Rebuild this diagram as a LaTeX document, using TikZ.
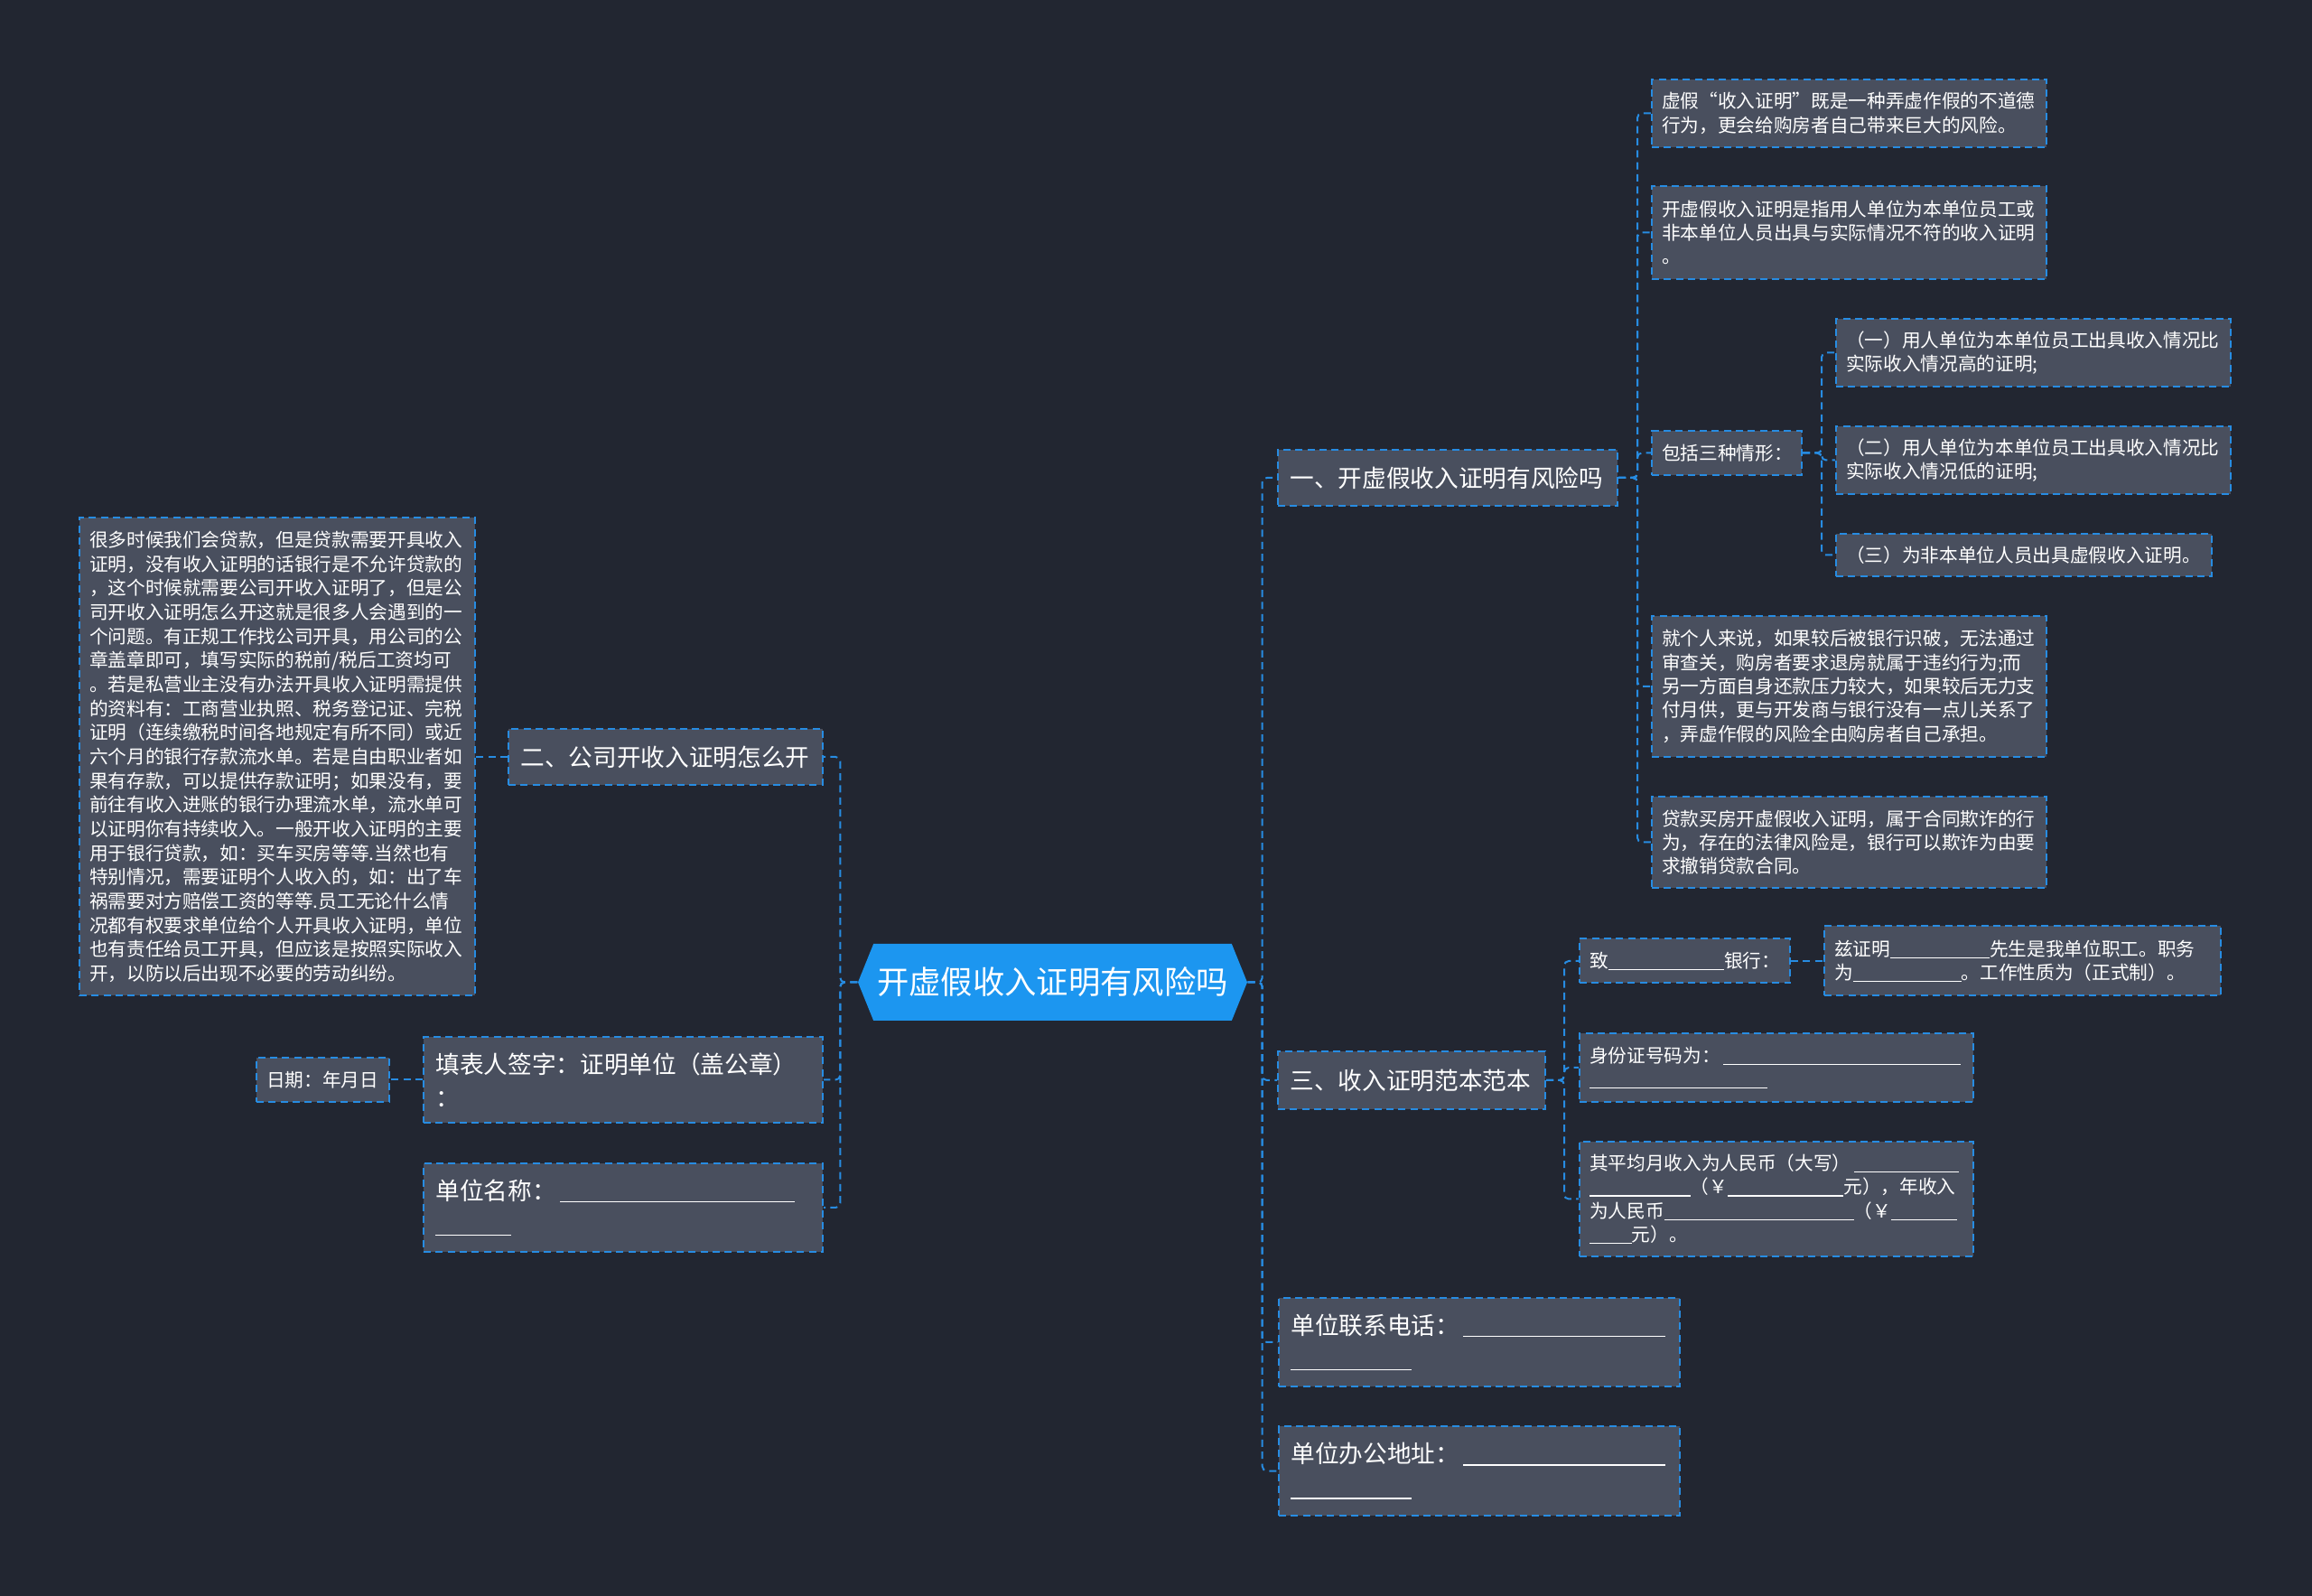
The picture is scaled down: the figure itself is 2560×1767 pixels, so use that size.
\documentclass[tikz,border=0pt]{standalone}
\usepackage{fontspec}
\newfontfamily\cjk{Noto Sans CJK SC}
\usetikzlibrary{shapes.symbols}
\definecolor{bg}{RGB}{34,38,49}
\definecolor{boxfill}{RGB}{73,79,94}
\definecolor{dashc}{RGB}{39,140,226}
\definecolor{rootfill}{RGB}{28,150,240}
\newcommand\bl[1]{\rule[-0.9pt]{#1}{0.45pt}}
\begin{document}
\begin{tikzpicture}[x=0.3pt,y=-0.3pt,
 conn/.style={draw=dashc, line width=0.6pt, dash pattern=on 2.4pt off 1.6pt, rounded corners=1.5pt},
 base/.style={draw=dashc, fill=boxfill, line width=0.6pt, dash pattern=on 2.4pt off 1.6pt, text=white, align=left, inner ysep=0pt},
 small/.style={base, font=\cjk\fontsize{6.2}{7.9}\selectfont, inner xsep=3.3pt},
 mid/.style={base, font=\cjk\fontsize{8}{11}\selectfont, inner xsep=4pt},
]
\fill[bg] (0,0) rectangle (2560,1767);
\useasboundingbox (0,0) rectangle (2560,1767);

% root
\node[shape=signal, signal to=east and west, signal pointer angle=136, fill=rootfill, text=white,
  font=\cjk\fontsize{10.6}{12}\selectfont, minimum width=129.3pt, minimum height=25.5pt, inner sep=0pt]
  (root) at (1165.5,1087.5) {开虚假收入证明有风险吗};

% level 2 right
\node[mid, text width=104.8pt, minimum height=18.6pt] (L1) at (1603,529) {一、开虚假收入证明有风险吗};
\node[mid, text width=80.8pt, minimum height=19.2pt] (L3) at (1563,1196) {三、收入证明范本范本};
\node[mid, text width=125.2pt, minimum height=29.4pt] (L4) at (1638,1486) {单位联系电话：\,\bl{67pt}\\\bl{40pt}};
\node[mid, text width=125.2pt, minimum height=29.7pt] (L5) at (1638,1628.5) {单位办公地址：\,\bl{67pt}\\\bl{40pt}};

% level 2 left
\node[mid, text width=96.4pt, minimum height=18.6pt] (L2) at (737,838) {二、公司开收入证明怎么开};
\node[mid, text width=124.6pt, minimum height=28.5pt] (L6) at (690,1195.5) {填表人签字：证明单位（盖公章）\\：};
\node[mid, text width=124.6pt, minimum height=29.4pt] (L7) at (690,1337) {单位名称：\,\bl{78pt}\\\bl{25pt}};

% left leaves
\node[small, text width=124.8pt, minimum height=158.7pt, font=\cjk\fontsize{6.2}{8.0}\selectfont] (P) at (307,838) {很多时候我们会贷款，但是贷款需要开具收入\\
证明，没有收入证明的话银行是不允许贷款的\\
，这个时候就需要公司开收入证明了，但是公\\
司开收入证明怎么开这就是很多人会遇到的一\\
个问题。有正规工作找公司开具，用公司的公\\
章盖章即可，填写实际的税前/税后工资均可\\
。若是私营业主没有办法开具收入证明需提供\\
的资料有：工商营业执照、税务登记证、完税\\
证明（连续缴税时间各地规定有所不同）或近\\
六个月的银行存款流水单。若是自由职业者如\\
果有存款，可以提供存款证明；如果没有，要\\
前往有收入进账的银行办理流水单，流水单可\\
以证明你有持续收入。一般开收入证明的主要\\
用于银行贷款，如：买车买房等等.当然也有\\
特别情况，需要证明个人收入的，如：出了车\\
祸需要对方赔偿工资的等等.员工无论什么情\\
况都有权要求单位给个人开具收入证明，单位\\
也有责任给员工开具，但应该是按照实际收入\\
开，以防以后出现不必要的劳动纠纷。};
\node[small, text width=37.5pt, minimum height=14.7pt] (date) at (357.5,1195.5) {日期：年月日};

% children of L1
\node[small, text width=124.5pt, minimum height=22.5pt] (A) at (2047.5,125.5) {虚假“收入证明”既是一种弄虚作假的不道德\\行为，更会给购房者自己带来巨大的风险。};
\node[small, text width=124.5pt, minimum height=30.9pt] (B) at (2047.5,257.5) {开虚假收入证明是指用人单位为本单位员工或\\非本单位人员出具与实际情况不符的收入证明\\。};
\node[small, text width=43.2pt, minimum height=14.7pt] (C) at (1912,501.5) {包括三种情形：};
\node[small, text width=124.5pt, minimum height=46.8pt] (D) at (2047.5,760) {就个人来说，如果较后被银行识破，无法通过\\审查关，购房者要求退房就属于违约行为;而\\另一方面自身还款压力较大，如果较后无力支\\付月供，更与开发商与银行没有一点儿关系了\\，弄虚作假的风险全由购房者自己承担。};
\node[small, text width=124.5pt, minimum height=30.3pt] (E) at (2047.5,932.5) {贷款买房开虚假收入证明，属于合同欺诈的行\\为，存在的法律风险是，银行可以欺诈为由要\\求撤销贷款合同。};

% children of C
\node[small, text width=124.5pt, minimum height=22.5pt] (C1) at (2251.5,390.5) {（一）用人单位为本单位员工出具收入情况比\\实际收入情况高的证明;};
\node[small, text width=124.5pt, minimum height=22.5pt] (C2) at (2251.5,509.5) {（二）用人单位为本单位员工出具收入情况比\\实际收入情况低的证明;};
\node[small, text width=118.2pt, minimum height=14.1pt] (C3) at (2241,614.5) {（三）为非本单位人员出具虚假收入证明。};

% children of L3
\node[small, text width=63.3pt, minimum height=14.7pt] (T1) at (1865.5,1064) {致\bl{38.5pt}银行：};
\node[small, text width=125.1pt, minimum height=23.1pt] (T1b) at (2239.5,1064) {兹证明\bl{33pt}先生是我单位职工。职务\\为\bl{36pt}。工作性质为（正式制）。};
\node[small, text width=124.2pt, minimum height=22.8pt] (T2) at (1967,1182) {身份证号码为：\,\bl{79pt}\\\bl{59pt}};
\node[small, text width=124.2pt, minimum height=38.1pt] (T3) at (1967,1327.5) {其平均月收入为人民币（大写）\,\bl{35pt}\\\bl{33.5pt}（￥\bl{38.5pt}元），年收入\\为人民币\bl{63pt}（￥\bl{22pt}\\\bl{14pt}元）。};

% connectors
\foreach \n in {L1,L3,L4,L5} \draw[conn] (root.east) -- ++(4.8pt,0) |- (\n.west);
\foreach \n in {L2,L6,L7} \draw[conn] (root.west) -- ++(-5.7pt,0) |- (\n.east);
\draw[conn] (L2.west) -- (P.east);
\draw[conn] (L6.west) -- (date.east);
\foreach \n in {A,B,C,D,E} \draw[conn] (L1.east) -- ++(6.3pt,0) |- (\n.west);
\foreach \n in {C1,C2,C3} \draw[conn] (C.east) -- ++(6.3pt,0) |- (\n.west);
\foreach \n in {T1,T2,T3} \draw[conn] (L3.east) -- ++(6pt,0) |- (\n.west);
\draw[conn] (T1.east) -- (T1b.west);
\end{tikzpicture}
\end{document}
